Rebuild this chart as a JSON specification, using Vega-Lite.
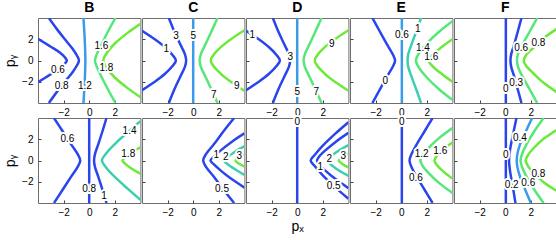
{
"$schema":"https://vega.github.io/schema/vega-lite/v6.json",
"padding":{"left":3,"top":0,"right":0,"bottom":0},
"autosize":{"type":"pad"},
"datasets":{
"lines":[
{"p":"B1","c":"0.6","k":1,"x":-4,"y":-2.05},{"p":"B1","c":"0.6","k":1,"x":-3,"y":-1.3},{"p":"B1","c":"0.6","k":1,"x":-2.3,"y":-0.75},{"p":"B1","c":"0.6","k":1,"x":-1.9,"y":-0.3},{"p":"B1","c":"0.6","k":1,"x":-1.75,"y":0},{"p":"B1","c":"0.6","k":1,"x":-1.9,"y":0.3},{"p":"B1","c":"0.6","k":1,"x":-2.3,"y":0.75},{"p":"B1","c":"0.6","k":1,"x":-3,"y":1.3},{"p":"B1","c":"0.6","k":1,"x":-4,"y":2.05},
{"p":"B1","c":"0.8","k":1,"x":-3.15,"y":-4},{"p":"B1","c":"0.8","k":1,"x":-2.55,"y":-3},{"p":"B1","c":"0.8","k":1,"x":-1.9,"y":-2},{"p":"B1","c":"0.8","k":1,"x":-1.3,"y":-1.1},{"p":"B1","c":"0.8","k":1,"x":-0.95,"y":-0.45},{"p":"B1","c":"0.8","k":1,"x":-0.8,"y":0},{"p":"B1","c":"0.8","k":1,"x":-0.95,"y":0.45},{"p":"B1","c":"0.8","k":1,"x":-1.3,"y":1.1},{"p":"B1","c":"0.8","k":1,"x":-1.9,"y":2},{"p":"B1","c":"0.8","k":1,"x":-2.55,"y":3},{"p":"B1","c":"0.8","k":1,"x":-3.15,"y":4},
{"p":"B1","c":"1.2","k":2,"x":-0.45,"y":-4},{"p":"B1","c":"1.2","k":2,"x":-0.35,"y":-2},{"p":"B1","c":"1.2","k":2,"x":-0.3,"y":0},{"p":"B1","c":"1.2","k":2,"x":-0.35,"y":2},{"p":"B1","c":"1.2","k":2,"x":-0.45,"y":4},
{"p":"B1","c":"1.6","k":4,"x":2.05,"y":-4},{"p":"B1","c":"1.6","k":4,"x":1.5,"y":-2.8},{"p":"B1","c":"1.6","k":4,"x":0.95,"y":-1.5},{"p":"B1","c":"1.6","k":4,"x":0.6,"y":-0.6},{"p":"B1","c":"1.6","k":4,"x":0.45,"y":0},{"p":"B1","c":"1.6","k":4,"x":0.6,"y":0.6},{"p":"B1","c":"1.6","k":4,"x":0.95,"y":1.5},{"p":"B1","c":"1.6","k":4,"x":1.5,"y":2.8},{"p":"B1","c":"1.6","k":4,"x":2.05,"y":4},
{"p":"B1","c":"1.8","k":5,"x":4,"y":-3.45},{"p":"B1","c":"1.8","k":5,"x":3,"y":-2.6},{"p":"B1","c":"1.8","k":5,"x":2,"y":-1.6},{"p":"B1","c":"1.8","k":5,"x":1.4,"y":-0.75},{"p":"B1","c":"1.8","k":5,"x":1.1,"y":0},{"p":"B1","c":"1.8","k":5,"x":1.4,"y":0.75},{"p":"B1","c":"1.8","k":5,"x":2,"y":1.6},{"p":"B1","c":"1.8","k":5,"x":3,"y":2.6},{"p":"B1","c":"1.8","k":5,"x":4,"y":3.45},

{"p":"C1","c":"1","k":1,"x":-4,"y":-2.8},{"p":"C1","c":"1","k":1,"x":-3,"y":-2.0},{"p":"C1","c":"1","k":1,"x":-2.2,"y":-1.25},{"p":"C1","c":"1","k":1,"x":-1.6,"y":-0.5},{"p":"C1","c":"1","k":1,"x":-1.35,"y":0},{"p":"C1","c":"1","k":1,"x":-1.6,"y":0.5},{"p":"C1","c":"1","k":1,"x":-2.2,"y":1.25},{"p":"C1","c":"1","k":1,"x":-3,"y":2.0},{"p":"C1","c":"1","k":1,"x":-4,"y":2.8},
{"p":"C1","c":"3","k":1,"x":-1.9,"y":-4},{"p":"C1","c":"3","k":1,"x":-1.5,"y":-2.8},{"p":"C1","c":"3","k":1,"x":-1.0,"y":-1.5},{"p":"C1","c":"3","k":1,"x":-0.65,"y":-0.6},{"p":"C1","c":"3","k":1,"x":-0.55,"y":0},{"p":"C1","c":"3","k":1,"x":-0.65,"y":0.6},{"p":"C1","c":"3","k":1,"x":-1.0,"y":1.5},{"p":"C1","c":"3","k":1,"x":-1.5,"y":2.8},{"p":"C1","c":"3","k":1,"x":-1.9,"y":4},
{"p":"C1","c":"5","k":2,"x":0,"y":-4},{"p":"C1","c":"5","k":2,"x":0,"y":4},
{"p":"C1","c":"7","k":4,"x":1.9,"y":-4},{"p":"C1","c":"7","k":4,"x":1.45,"y":-2.8},{"p":"C1","c":"7","k":4,"x":0.95,"y":-1.5},{"p":"C1","c":"7","k":4,"x":0.6,"y":-0.6},{"p":"C1","c":"7","k":4,"x":0.5,"y":0},{"p":"C1","c":"7","k":4,"x":0.6,"y":0.6},{"p":"C1","c":"7","k":4,"x":0.95,"y":1.5},{"p":"C1","c":"7","k":4,"x":1.45,"y":2.8},{"p":"C1","c":"7","k":4,"x":1.9,"y":4},
{"p":"C1","c":"9","k":5,"x":4,"y":-2.85},{"p":"C1","c":"9","k":5,"x":3,"y":-2.05},{"p":"C1","c":"9","k":5,"x":2.2,"y":-1.3},{"p":"C1","c":"9","k":5,"x":1.6,"y":-0.55},{"p":"C1","c":"9","k":5,"x":1.37,"y":0},{"p":"C1","c":"9","k":5,"x":1.6,"y":0.55},{"p":"C1","c":"9","k":5,"x":2.2,"y":1.3},{"p":"C1","c":"9","k":5,"x":3,"y":2.05},{"p":"C1","c":"9","k":5,"x":4,"y":2.85},

{"p":"D1","c":"1","k":1,"x":-4,"y":-2.8},{"p":"D1","c":"1","k":1,"x":-3,"y":-2.0},{"p":"D1","c":"1","k":1,"x":-2.2,"y":-1.25},{"p":"D1","c":"1","k":1,"x":-1.6,"y":-0.5},{"p":"D1","c":"1","k":1,"x":-1.35,"y":0},{"p":"D1","c":"1","k":1,"x":-1.6,"y":0.5},{"p":"D1","c":"1","k":1,"x":-2.2,"y":1.25},{"p":"D1","c":"1","k":1,"x":-3,"y":2.0},{"p":"D1","c":"1","k":1,"x":-4,"y":2.8},
{"p":"D1","c":"3","k":1,"x":-1.9,"y":-4},{"p":"D1","c":"3","k":1,"x":-1.5,"y":-2.8},{"p":"D1","c":"3","k":1,"x":-1.0,"y":-1.5},{"p":"D1","c":"3","k":1,"x":-0.65,"y":-0.6},{"p":"D1","c":"3","k":1,"x":-0.55,"y":0},{"p":"D1","c":"3","k":1,"x":-0.65,"y":0.6},{"p":"D1","c":"3","k":1,"x":-1.0,"y":1.5},{"p":"D1","c":"3","k":1,"x":-1.5,"y":2.8},{"p":"D1","c":"3","k":1,"x":-1.9,"y":4},
{"p":"D1","c":"5","k":2,"x":0,"y":-4},{"p":"D1","c":"5","k":2,"x":0,"y":4},
{"p":"D1","c":"7","k":4,"x":1.9,"y":-4},{"p":"D1","c":"7","k":4,"x":1.45,"y":-2.8},{"p":"D1","c":"7","k":4,"x":0.95,"y":-1.5},{"p":"D1","c":"7","k":4,"x":0.6,"y":-0.6},{"p":"D1","c":"7","k":4,"x":0.5,"y":0},{"p":"D1","c":"7","k":4,"x":0.6,"y":0.6},{"p":"D1","c":"7","k":4,"x":0.95,"y":1.5},{"p":"D1","c":"7","k":4,"x":1.45,"y":2.8},{"p":"D1","c":"7","k":4,"x":1.9,"y":4},
{"p":"D1","c":"9","k":5,"x":4,"y":-2.85},{"p":"D1","c":"9","k":5,"x":3,"y":-2.05},{"p":"D1","c":"9","k":5,"x":2.2,"y":-1.3},{"p":"D1","c":"9","k":5,"x":1.6,"y":-0.55},{"p":"D1","c":"9","k":5,"x":1.37,"y":0},{"p":"D1","c":"9","k":5,"x":1.6,"y":0.55},{"p":"D1","c":"9","k":5,"x":2.2,"y":1.3},{"p":"D1","c":"9","k":5,"x":3,"y":2.05},{"p":"D1","c":"9","k":5,"x":4,"y":2.85},

{"p":"E1","c":"0","k":1,"x":-2.25,"y":-4},{"p":"E1","c":"0","k":1,"x":-1.7,"y":-2.8},{"p":"E1","c":"0","k":1,"x":-1.1,"y":-1.5},{"p":"E1","c":"0","k":1,"x":-0.62,"y":-0.5},{"p":"E1","c":"0","k":1,"x":-0.48,"y":0},{"p":"E1","c":"0","k":1,"x":-0.62,"y":0.5},{"p":"E1","c":"0","k":1,"x":-1.1,"y":1.5},{"p":"E1","c":"0","k":1,"x":-1.7,"y":2.8},{"p":"E1","c":"0","k":1,"x":-2.25,"y":4},
{"p":"E1","c":"0.6","k":2,"x":0.05,"y":-4},{"p":"E1","c":"0.6","k":2,"x":0.05,"y":4},
{"p":"E1","c":"1","k":3,"x":1.55,"y":-4},{"p":"E1","c":"1","k":3,"x":1.2,"y":-2.8},{"p":"E1","c":"1","k":3,"x":0.8,"y":-1.5},{"p":"E1","c":"1","k":3,"x":0.55,"y":-0.6},{"p":"E1","c":"1","k":3,"x":0.5,"y":0},{"p":"E1","c":"1","k":3,"x":0.55,"y":0.6},{"p":"E1","c":"1","k":3,"x":0.8,"y":1.5},{"p":"E1","c":"1","k":3,"x":1.2,"y":2.8},{"p":"E1","c":"1","k":3,"x":1.55,"y":4},
{"p":"E1","c":"1.4","k":4,"x":4,"y":-3.7},{"p":"E1","c":"1.4","k":4,"x":3,"y":-2.75},{"p":"E1","c":"1.4","k":4,"x":2,"y":-1.6},{"p":"E1","c":"1.4","k":4,"x":1.4,"y":-0.7},{"p":"E1","c":"1.4","k":4,"x":1.15,"y":0},{"p":"E1","c":"1.4","k":4,"x":1.4,"y":0.7},{"p":"E1","c":"1.4","k":4,"x":2,"y":1.6},{"p":"E1","c":"1.4","k":4,"x":3,"y":2.75},{"p":"E1","c":"1.4","k":4,"x":4,"y":3.7},
{"p":"E1","c":"1.6","k":5,"x":4,"y":-2.0},{"p":"E1","c":"1.6","k":5,"x":3.2,"y":-1.3},{"p":"E1","c":"1.6","k":5,"x":2.5,"y":-0.6},{"p":"E1","c":"1.6","k":5,"x":2.15,"y":0},{"p":"E1","c":"1.6","k":5,"x":2.5,"y":0.6},{"p":"E1","c":"1.6","k":5,"x":3.2,"y":1.3},{"p":"E1","c":"1.6","k":5,"x":4,"y":2.0},

{"p":"F1","c":"0","k":1,"x":0.05,"y":-4},{"p":"F1","c":"0","k":1,"x":0.05,"y":4},
{"p":"F1","c":"0.3","k":1,"x":1.27,"y":-4},{"p":"F1","c":"0.3","k":1,"x":1.0,"y":-2.8},{"p":"F1","c":"0.3","k":1,"x":0.7,"y":-1.5},{"p":"F1","c":"0.3","k":1,"x":0.47,"y":-0.6},{"p":"F1","c":"0.3","k":1,"x":0.41,"y":0},{"p":"F1","c":"0.3","k":1,"x":0.47,"y":0.6},{"p":"F1","c":"0.3","k":1,"x":0.7,"y":1.5},{"p":"F1","c":"0.3","k":1,"x":1.0,"y":2.8},{"p":"F1","c":"0.3","k":1,"x":1.27,"y":4},
{"p":"F1","c":"0.6","k":4,"x":2.5,"y":-4},{"p":"F1","c":"0.6","k":4,"x":1.95,"y":-2.8},{"p":"F1","c":"0.6","k":4,"x":1.35,"y":-1.5},{"p":"F1","c":"0.6","k":4,"x":1.0,"y":-0.6},{"p":"F1","c":"0.6","k":4,"x":0.92,"y":0},{"p":"F1","c":"0.6","k":4,"x":1.0,"y":0.6},{"p":"F1","c":"0.6","k":4,"x":1.35,"y":1.5},{"p":"F1","c":"0.6","k":4,"x":1.95,"y":2.8},{"p":"F1","c":"0.6","k":4,"x":2.5,"y":4},
{"p":"F1","c":"0.8","k":5,"x":4,"y":-2.95},{"p":"F1","c":"0.8","k":5,"x":3,"y":-2.1},{"p":"F1","c":"0.8","k":5,"x":2.2,"y":-1.2},{"p":"F1","c":"0.8","k":5,"x":1.6,"y":-0.45},{"p":"F1","c":"0.8","k":5,"x":1.45,"y":0},{"p":"F1","c":"0.8","k":5,"x":1.6,"y":0.45},{"p":"F1","c":"0.8","k":5,"x":2.2,"y":1.2},{"p":"F1","c":"0.8","k":5,"x":3,"y":2.1},{"p":"F1","c":"0.8","k":5,"x":4,"y":2.95},

{"p":"B2","c":"0.6","k":1,"x":-2.75,"y":-4},{"p":"B2","c":"0.6","k":1,"x":-2.1,"y":-2.8},{"p":"B2","c":"0.6","k":1,"x":-1.4,"y":-1.5},{"p":"B2","c":"0.6","k":1,"x":-0.9,"y":-0.6},{"p":"B2","c":"0.6","k":1,"x":-0.7,"y":0},{"p":"B2","c":"0.6","k":1,"x":-0.9,"y":0.6},{"p":"B2","c":"0.6","k":1,"x":-1.4,"y":1.5},{"p":"B2","c":"0.6","k":1,"x":-2.1,"y":2.8},{"p":"B2","c":"0.6","k":1,"x":-2.75,"y":4},
{"p":"B2","c":"0.8","k":1,"x":0,"y":-4},{"p":"B2","c":"0.8","k":1,"x":0,"y":4},
{"p":"B2","c":"1","k":1,"x":1.35,"y":-4},{"p":"B2","c":"1","k":1,"x":1.05,"y":-2.8},{"p":"B2","c":"1","k":1,"x":0.7,"y":-1.5},{"p":"B2","c":"1","k":1,"x":0.45,"y":-0.6},{"p":"B2","c":"1","k":1,"x":0.38,"y":0},{"p":"B2","c":"1","k":1,"x":0.45,"y":0.6},{"p":"B2","c":"1","k":1,"x":0.7,"y":1.5},{"p":"B2","c":"1","k":1,"x":1.05,"y":2.8},{"p":"B2","c":"1","k":1,"x":1.35,"y":4},
{"p":"B2","c":"1.4","k":3,"x":4,"y":-3.7},{"p":"B2","c":"1.4","k":3,"x":3,"y":-2.65},{"p":"B2","c":"1.4","k":3,"x":2,"y":-1.55},{"p":"B2","c":"1.4","k":3,"x":1.35,"y":-0.7},{"p":"B2","c":"1.4","k":3,"x":1.0,"y":0},{"p":"B2","c":"1.4","k":3,"x":1.35,"y":0.7},{"p":"B2","c":"1.4","k":3,"x":2,"y":1.55},{"p":"B2","c":"1.4","k":3,"x":3,"y":2.65},{"p":"B2","c":"1.4","k":3,"x":4,"y":3.7},
{"p":"B2","c":"1.8","k":5,"x":4,"y":-1.25},{"p":"B2","c":"1.8","k":5,"x":3.3,"y":-0.75},{"p":"B2","c":"1.8","k":5,"x":2.8,"y":-0.3},{"p":"B2","c":"1.8","k":5,"x":2.6,"y":0},{"p":"B2","c":"1.8","k":5,"x":2.8,"y":0.3},{"p":"B2","c":"1.8","k":5,"x":3.3,"y":0.75},{"p":"B2","c":"1.8","k":5,"x":4,"y":1.25},

{"p":"C2","c":"0.5","k":1,"x":3.2,"y":-4},{"p":"C2","c":"0.5","k":1,"x":2.4,"y":-2.8},{"p":"C2","c":"0.5","k":1,"x":1.6,"y":-1.5},{"p":"C2","c":"0.5","k":1,"x":1.0,"y":-0.6},{"p":"C2","c":"0.5","k":1,"x":0.78,"y":0},{"p":"C2","c":"0.5","k":1,"x":1.0,"y":0.6},{"p":"C2","c":"0.5","k":1,"x":1.6,"y":1.5},{"p":"C2","c":"0.5","k":1,"x":2.4,"y":2.8},{"p":"C2","c":"0.5","k":1,"x":3.2,"y":4},
{"p":"C2","c":"1","k":1,"x":4,"y":-2.55},{"p":"C2","c":"1","k":1,"x":3,"y":-1.75},{"p":"C2","c":"1","k":1,"x":2.2,"y":-1.0},{"p":"C2","c":"1","k":1,"x":1.6,"y":-0.35},{"p":"C2","c":"1","k":1,"x":1.35,"y":0},{"p":"C2","c":"1","k":1,"x":1.6,"y":0.35},{"p":"C2","c":"1","k":1,"x":2.2,"y":1.0},{"p":"C2","c":"1","k":1,"x":3,"y":1.75},{"p":"C2","c":"1","k":1,"x":4,"y":2.55},
{"p":"C2","c":"2","k":3,"x":4,"y":-1.35},{"p":"C2","c":"2","k":3,"x":3.3,"y":-0.85},{"p":"C2","c":"2","k":3,"x":2.7,"y":-0.35},{"p":"C2","c":"2","k":3,"x":2.4,"y":0},{"p":"C2","c":"2","k":3,"x":2.7,"y":0.35},{"p":"C2","c":"2","k":3,"x":3.3,"y":0.85},{"p":"C2","c":"2","k":3,"x":4,"y":1.35},
{"p":"C2","c":"3","k":5,"x":4,"y":-0.55},{"p":"C2","c":"3","k":5,"x":3.55,"y":-0.28},{"p":"C2","c":"3","k":5,"x":3.3,"y":0},{"p":"C2","c":"3","k":5,"x":3.55,"y":0.28},{"p":"C2","c":"3","k":5,"x":4,"y":0.55},

{"p":"D2","c":"0","k":1,"x":0,"y":-4},{"p":"D2","c":"0","k":1,"x":0,"y":4},
{"p":"D2","c":"0.5","k":1,"x":4,"y":-3.6},{"p":"D2","c":"0.5","k":1,"x":3,"y":-2.55},{"p":"D2","c":"0.5","k":1,"x":2,"y":-1.4},{"p":"D2","c":"0.5","k":1,"x":1.35,"y":-0.5},{"p":"D2","c":"0.5","k":1,"x":1.05,"y":0},{"p":"D2","c":"0.5","k":1,"x":1.35,"y":0.5},{"p":"D2","c":"0.5","k":1,"x":2,"y":1.4},{"p":"D2","c":"0.5","k":1,"x":3,"y":2.55},{"p":"D2","c":"0.5","k":1,"x":4,"y":3.6},
{"p":"D2","c":"1","k":1,"x":4,"y":-2.6},{"p":"D2","c":"1","k":1,"x":3,"y":-1.75},{"p":"D2","c":"1","k":1,"x":2.2,"y":-0.95},{"p":"D2","c":"1","k":1,"x":1.7,"y":-0.35},{"p":"D2","c":"1","k":1,"x":1.55,"y":0},{"p":"D2","c":"1","k":1,"x":1.7,"y":0.35},{"p":"D2","c":"1","k":1,"x":2.2,"y":0.95},{"p":"D2","c":"1","k":1,"x":3,"y":1.75},{"p":"D2","c":"1","k":1,"x":4,"y":2.6},
{"p":"D2","c":"2","k":3,"x":4,"y":-1.45},{"p":"D2","c":"2","k":3,"x":3.2,"y":-0.9},{"p":"D2","c":"2","k":3,"x":2.6,"y":-0.35},{"p":"D2","c":"2","k":3,"x":2.4,"y":0},{"p":"D2","c":"2","k":3,"x":2.6,"y":0.35},{"p":"D2","c":"2","k":3,"x":3.2,"y":0.9},{"p":"D2","c":"2","k":3,"x":4,"y":1.45},
{"p":"D2","c":"3","k":5,"x":4,"y":-0.65},{"p":"D2","c":"3","k":5,"x":3.5,"y":-0.3},{"p":"D2","c":"3","k":5,"x":3.25,"y":0},{"p":"D2","c":"3","k":5,"x":3.5,"y":0.3},{"p":"D2","c":"3","k":5,"x":4,"y":0.65},

{"p":"E2","c":"0","k":1,"x":0.05,"y":-4},{"p":"E2","c":"0","k":1,"x":0.05,"y":4},
{"p":"E2","c":"0.6","k":1,"x":2.45,"y":-4},{"p":"E2","c":"0.6","k":1,"x":1.85,"y":-2.8},{"p":"E2","c":"0.6","k":1,"x":1.2,"y":-1.5},{"p":"E2","c":"0.6","k":1,"x":0.8,"y":-0.6},{"p":"E2","c":"0.6","k":1,"x":0.65,"y":0},{"p":"E2","c":"0.6","k":1,"x":0.8,"y":0.6},{"p":"E2","c":"0.6","k":1,"x":1.2,"y":1.5},{"p":"E2","c":"0.6","k":1,"x":1.85,"y":2.8},{"p":"E2","c":"0.6","k":1,"x":2.45,"y":4},
{"p":"E2","c":"1.2","k":4,"x":4,"y":-3.05},{"p":"E2","c":"1.2","k":4,"x":3,"y":-2.15},{"p":"E2","c":"1.2","k":4,"x":2.2,"y":-1.25},{"p":"E2","c":"1.2","k":4,"x":1.65,"y":-0.45},{"p":"E2","c":"1.2","k":4,"x":1.5,"y":0},{"p":"E2","c":"1.2","k":4,"x":1.65,"y":0.45},{"p":"E2","c":"1.2","k":4,"x":2.2,"y":1.25},{"p":"E2","c":"1.2","k":4,"x":3,"y":2.15},{"p":"E2","c":"1.2","k":4,"x":4,"y":3.05},
{"p":"E2","c":"1.6","k":5,"x":4,"y":-1.7},{"p":"E2","c":"1.6","k":5,"x":3.3,"y":-1.05},{"p":"E2","c":"1.6","k":5,"x":2.8,"y":-0.45},{"p":"E2","c":"1.6","k":5,"x":2.6,"y":0},{"p":"E2","c":"1.6","k":5,"x":2.8,"y":0.45},{"p":"E2","c":"1.6","k":5,"x":3.3,"y":1.05},{"p":"E2","c":"1.6","k":5,"x":4,"y":1.7},

{"p":"F2","c":"0","k":1,"x":0.05,"y":-4},{"p":"F2","c":"0","k":1,"x":0.05,"y":4},
{"p":"F2","c":"0.2","k":1,"x":0.8,"y":-4},{"p":"F2","c":"0.2","k":1,"x":0.6,"y":-2.5},{"p":"F2","c":"0.2","k":1,"x":0.38,"y":-1.0},{"p":"F2","c":"0.2","k":1,"x":0.3,"y":0},{"p":"F2","c":"0.2","k":1,"x":0.38,"y":1.0},{"p":"F2","c":"0.2","k":1,"x":0.62,"y":2.5},{"p":"F2","c":"0.2","k":1,"x":0.88,"y":4},
{"p":"F2","c":"0.4","k":2,"x":2.0,"y":-4},{"p":"F2","c":"0.4","k":2,"x":1.55,"y":-2.7},{"p":"F2","c":"0.4","k":2,"x":1.15,"y":-1.5},{"p":"F2","c":"0.4","k":2,"x":0.95,"y":-0.6},{"p":"F2","c":"0.4","k":2,"x":0.9,"y":0},{"p":"F2","c":"0.4","k":2,"x":0.95,"y":0.6},{"p":"F2","c":"0.4","k":2,"x":1.15,"y":1.5},{"p":"F2","c":"0.4","k":2,"x":1.6,"y":2.7},{"p":"F2","c":"0.4","k":2,"x":2.1,"y":4},
{"p":"F2","c":"0.6","k":4,"x":3.0,"y":-4},{"p":"F2","c":"0.6","k":4,"x":2.3,"y":-2.8},{"p":"F2","c":"0.6","k":4,"x":1.65,"y":-1.5},{"p":"F2","c":"0.6","k":4,"x":1.3,"y":-0.55},{"p":"F2","c":"0.6","k":4,"x":1.2,"y":0},{"p":"F2","c":"0.6","k":4,"x":1.3,"y":0.55},{"p":"F2","c":"0.6","k":4,"x":1.65,"y":1.5},{"p":"F2","c":"0.6","k":4,"x":2.3,"y":2.8},{"p":"F2","c":"0.6","k":4,"x":3.0,"y":4},
{"p":"F2","c":"0.8","k":5,"x":4,"y":-2.85},{"p":"F2","c":"0.8","k":5,"x":3,"y":-2.05},{"p":"F2","c":"0.8","k":5,"x":2.25,"y":-1.2},{"p":"F2","c":"0.8","k":5,"x":1.75,"y":-0.45},{"p":"F2","c":"0.8","k":5,"x":1.6,"y":0},{"p":"F2","c":"0.8","k":5,"x":1.75,"y":0.45},{"p":"F2","c":"0.8","k":5,"x":2.25,"y":1.2},{"p":"F2","c":"0.8","k":5,"x":3,"y":2.05},{"p":"F2","c":"0.8","k":5,"x":4,"y":2.85}
],
"labs":[
{"p":"B1","t":"0.6","x":-2.45,"y":-0.85},{"p":"B1","t":"0.8","x":-2.15,"y":-2.4},{"p":"B1","t":"1.2","x":-0.33,"y":-2.4},{"p":"B1","t":"1.6","x":0.95,"y":1.4},{"p":"B1","t":"1.8","x":1.35,"y":-0.75},
{"p":"C1","t":"1","x":-2.1,"y":1.1},{"p":"C1","t":"3","x":-1.35,"y":2.3},{"p":"C1","t":"5","x":0,"y":2.3},{"p":"C1","t":"7","x":1.6,"y":-3.2},{"p":"C1","t":"9","x":3.4,"y":-2.4},
{"p":"D1","t":"1","x":-3.5,"y":2.4},{"p":"D1","t":"3","x":-0.55,"y":0.3},{"p":"D1","t":"5","x":0,"y":-3.0},{"p":"D1","t":"7","x":1.5,"y":-3.0},{"p":"D1","t":"9","x":2.7,"y":1.6},
{"p":"E1","t":"0","x":-1.25,"y":-1.9},{"p":"E1","t":"0.6","x":0.05,"y":2.4},{"p":"E1","t":"1","x":1.3,"y":3.0},{"p":"E1","t":"1.4","x":1.7,"y":1.2},{"p":"E1","t":"1.6","x":2.35,"y":0.3},
{"p":"F1","t":"0","x":0.05,"y":-2.7},{"p":"F1","t":"0.3","x":0.85,"y":-2.1},{"p":"F1","t":"0.6","x":1.25,"y":1.2},{"p":"F1","t":"0.8","x":2.6,"y":1.65},
{"p":"B2","t":"0.6","x":-1.7,"y":2.0},{"p":"B2","t":"0.8","x":0,"y":-2.7},{"p":"B2","t":"1","x":1.15,"y":-3.3},{"p":"B2","t":"1.4","x":3.15,"y":2.8},{"p":"B2","t":"1.8","x":3.05,"y":0.65},
{"p":"C2","t":"0.5","x":2.25,"y":-2.7},{"p":"C2","t":"1","x":1.8,"y":0.55},{"p":"C2","t":"2","x":2.55,"y":0.35},{"p":"C2","t":"3","x":3.6,"y":0.4},
{"p":"D2","t":"0","x":0,"y":3.6},{"p":"D2","t":"0.5","x":2.85,"y":-2.4},{"p":"D2","t":"1","x":1.8,"y":-0.6},{"p":"D2","t":"2","x":2.5,"y":0.15},{"p":"D2","t":"3","x":3.6,"y":0.45},
{"p":"E2","t":"0","x":0.05,"y":3.6},{"p":"E2","t":"0.6","x":1.15,"y":-1.6},{"p":"E2","t":"1.2","x":1.6,"y":0.6},{"p":"E2","t":"1.6","x":3.05,"y":0.9},
{"p":"F2","t":"0","x":0.05,"y":0.55},{"p":"F2","t":"0.2","x":0.5,"y":-2.3},{"p":"F2","t":"0.4","x":1.15,"y":2.1},{"p":"F2","t":"0.6","x":1.8,"y":-2.1},{"p":"F2","t":"0.8","x":2.6,"y":-1.3}
]
},
"columns":5,
"spacing":{"row":-3,"column":0},
"concat":[
{"width":102.4,"height":85,"title":"B",
 "encoding":{"x":{"field":"x","type":"quantitative","scale":{"domain":[-4,4],"nice":false,"zero":false},"axis":{"values":[-2,0,2],"title":null}},
  "y":{"field":"y","type":"quantitative","scale":{"domain":[-4,4],"nice":false,"zero":false},"axis":{"values":[-2,0,2],"title":"pᵧ"}}},
 "layer":[
  {"data":{"name":"lines"},"transform":[{"filter":"datum.p=='B1'"}],"mark":{"type":"line","strokeWidth":2.5,"clip":true,"interpolate":"catmull-rom"},"encoding":{"color":{"field":"k","type":"ordinal","scale":{"domain":[1,2,3,4,5],"range":["#2a45ec","#3a9ce8","#3ccfae","#55e878","#6cea3a"]},"legend":null},"detail":{"field":"c"},"order":{"field":"y","type":"quantitative"}}},
  {"data":{"name":"labs"},"transform":[{"filter":"datum.p=='B1'"}],"mark":{"type":"text","font":"Liberation Sans","fontSize":10,"fill":"white","stroke":"white","strokeWidth":4,"strokeJoin":"round"},"encoding":{"text":{"field":"t"}}},
  {"data":{"name":"labs"},"transform":[{"filter":"datum.p=='B1'"}],"mark":{"type":"text","font":"Liberation Sans","fontSize":10,"fill":"black"},"encoding":{"text":{"field":"t"}}}
 ]},
{"width":102.4,"height":85,"title":"C",
 "encoding":{"x":{"field":"x","type":"quantitative","scale":{"domain":[-4,4],"nice":false,"zero":false},"axis":{"values":[-2,0,2],"title":null}},
  "y":{"field":"y","type":"quantitative","scale":{"domain":[-4,4],"nice":false,"zero":false},"axis":{"values":[-2,0,2],"labels":false,"title":null,"minExtent":0}}},
 "layer":[
  {"data":{"name":"lines"},"transform":[{"filter":"datum.p=='C1'"}],"mark":{"type":"line","strokeWidth":2.5,"clip":true,"interpolate":"catmull-rom"},"encoding":{"color":{"field":"k","type":"ordinal","scale":{"domain":[1,2,3,4,5],"range":["#2a45ec","#3a9ce8","#3ccfae","#55e878","#6cea3a"]},"legend":null},"detail":{"field":"c"},"order":{"field":"y","type":"quantitative"}}},
  {"data":{"name":"labs"},"transform":[{"filter":"datum.p=='C1'"}],"mark":{"type":"text","font":"Liberation Sans","fontSize":10,"fill":"white","stroke":"white","strokeWidth":4,"strokeJoin":"round"},"encoding":{"text":{"field":"t"}}},
  {"data":{"name":"labs"},"transform":[{"filter":"datum.p=='C1'"}],"mark":{"type":"text","font":"Liberation Sans","fontSize":10,"fill":"black"},"encoding":{"text":{"field":"t"}}}
 ]},
{"width":102.4,"height":85,"title":"D",
 "encoding":{"x":{"field":"x","type":"quantitative","scale":{"domain":[-4,4],"nice":false,"zero":false},"axis":{"values":[-2,0,2],"title":null}},
  "y":{"field":"y","type":"quantitative","scale":{"domain":[-4,4],"nice":false,"zero":false},"axis":{"values":[-2,0,2],"labels":false,"title":null,"minExtent":0}}},
 "layer":[
  {"data":{"name":"lines"},"transform":[{"filter":"datum.p=='D1'"}],"mark":{"type":"line","strokeWidth":2.5,"clip":true,"interpolate":"catmull-rom"},"encoding":{"color":{"field":"k","type":"ordinal","scale":{"domain":[1,2,3,4,5],"range":["#2a45ec","#3a9ce8","#3ccfae","#55e878","#6cea3a"]},"legend":null},"detail":{"field":"c"},"order":{"field":"y","type":"quantitative"}}},
  {"data":{"name":"labs"},"transform":[{"filter":"datum.p=='D1'"}],"mark":{"type":"text","font":"Liberation Sans","fontSize":10,"fill":"white","stroke":"white","strokeWidth":4,"strokeJoin":"round"},"encoding":{"text":{"field":"t"}}},
  {"data":{"name":"labs"},"transform":[{"filter":"datum.p=='D1'"}],"mark":{"type":"text","font":"Liberation Sans","fontSize":10,"fill":"black"},"encoding":{"text":{"field":"t"}}}
 ]},
{"width":102.4,"height":85,"title":"E",
 "encoding":{"x":{"field":"x","type":"quantitative","scale":{"domain":[-4,4],"nice":false,"zero":false},"axis":{"values":[-2,0,2],"title":null}},
  "y":{"field":"y","type":"quantitative","scale":{"domain":[-4,4],"nice":false,"zero":false},"axis":{"values":[-2,0,2],"labels":false,"title":null,"minExtent":0}}},
 "layer":[
  {"data":{"name":"lines"},"transform":[{"filter":"datum.p=='E1'"}],"mark":{"type":"line","strokeWidth":2.5,"clip":true,"interpolate":"catmull-rom"},"encoding":{"color":{"field":"k","type":"ordinal","scale":{"domain":[1,2,3,4,5],"range":["#2a45ec","#3a9ce8","#3ccfae","#55e878","#6cea3a"]},"legend":null},"detail":{"field":"c"},"order":{"field":"y","type":"quantitative"}}},
  {"data":{"name":"labs"},"transform":[{"filter":"datum.p=='E1'"}],"mark":{"type":"text","font":"Liberation Sans","fontSize":10,"fill":"white","stroke":"white","strokeWidth":4,"strokeJoin":"round"},"encoding":{"text":{"field":"t"}}},
  {"data":{"name":"labs"},"transform":[{"filter":"datum.p=='E1'"}],"mark":{"type":"text","font":"Liberation Sans","fontSize":10,"fill":"black"},"encoding":{"text":{"field":"t"}}}
 ]},
{"width":102.4,"height":85,"title":"F",
 "encoding":{"x":{"field":"x","type":"quantitative","scale":{"domain":[-4,4],"nice":false,"zero":false},"axis":{"values":[-2,0,2],"title":null}},
  "y":{"field":"y","type":"quantitative","scale":{"domain":[-4,4],"nice":false,"zero":false},"axis":{"values":[-2,0,2],"labels":false,"title":null,"minExtent":0}}},
 "layer":[
  {"data":{"name":"lines"},"transform":[{"filter":"datum.p=='F1'"}],"mark":{"type":"line","strokeWidth":2.5,"clip":true,"interpolate":"catmull-rom"},"encoding":{"color":{"field":"k","type":"ordinal","scale":{"domain":[1,2,3,4,5],"range":["#2a45ec","#3a9ce8","#3ccfae","#55e878","#6cea3a"]},"legend":null},"detail":{"field":"c"},"order":{"field":"y","type":"quantitative"}}},
  {"data":{"name":"labs"},"transform":[{"filter":"datum.p=='F1'"}],"mark":{"type":"text","font":"Liberation Sans","fontSize":10,"fill":"white","stroke":"white","strokeWidth":4,"strokeJoin":"round"},"encoding":{"text":{"field":"t"}}},
  {"data":{"name":"labs"},"transform":[{"filter":"datum.p=='F1'"}],"mark":{"type":"text","font":"Liberation Sans","fontSize":10,"fill":"black"},"encoding":{"text":{"field":"t"}}}
 ]},
{"width":102.4,"height":85,
 "encoding":{"x":{"field":"x","type":"quantitative","scale":{"domain":[-4,4],"nice":false,"zero":false},"axis":{"values":[-2,0,2],"title":null}},
  "y":{"field":"y","type":"quantitative","scale":{"domain":[-4,4],"nice":false,"zero":false},"axis":{"values":[-2,0,2],"title":"pᵧ"}}},
 "layer":[
  {"data":{"name":"lines"},"transform":[{"filter":"datum.p=='B2'"}],"mark":{"type":"line","strokeWidth":2.5,"clip":true,"interpolate":"catmull-rom"},"encoding":{"color":{"field":"k","type":"ordinal","scale":{"domain":[1,2,3,4,5],"range":["#2a45ec","#3a9ce8","#3ccfae","#55e878","#6cea3a"]},"legend":null},"detail":{"field":"c"},"order":{"field":"y","type":"quantitative"}}},
  {"data":{"name":"labs"},"transform":[{"filter":"datum.p=='B2'"}],"mark":{"type":"text","font":"Liberation Sans","fontSize":10,"fill":"white","stroke":"white","strokeWidth":4,"strokeJoin":"round"},"encoding":{"text":{"field":"t"}}},
  {"data":{"name":"labs"},"transform":[{"filter":"datum.p=='B2'"}],"mark":{"type":"text","font":"Liberation Sans","fontSize":10,"fill":"black"},"encoding":{"text":{"field":"t"}}}
 ]},
{"width":102.4,"height":85,
 "encoding":{"x":{"field":"x","type":"quantitative","scale":{"domain":[-4,4],"nice":false,"zero":false},"axis":{"values":[-2,0,2],"title":null}},
  "y":{"field":"y","type":"quantitative","scale":{"domain":[-4,4],"nice":false,"zero":false},"axis":{"values":[-2,0,2],"labels":false,"title":null,"minExtent":0}}},
 "layer":[
  {"data":{"name":"lines"},"transform":[{"filter":"datum.p=='C2'"}],"mark":{"type":"line","strokeWidth":2.5,"clip":true,"interpolate":"catmull-rom"},"encoding":{"color":{"field":"k","type":"ordinal","scale":{"domain":[1,2,3,4,5],"range":["#2a45ec","#3a9ce8","#3ccfae","#55e878","#6cea3a"]},"legend":null},"detail":{"field":"c"},"order":{"field":"y","type":"quantitative"}}},
  {"data":{"name":"labs"},"transform":[{"filter":"datum.p=='C2'"}],"mark":{"type":"text","font":"Liberation Sans","fontSize":10,"fill":"white","stroke":"white","strokeWidth":4,"strokeJoin":"round"},"encoding":{"text":{"field":"t"}}},
  {"data":{"name":"labs"},"transform":[{"filter":"datum.p=='C2'"}],"mark":{"type":"text","font":"Liberation Sans","fontSize":10,"fill":"black"},"encoding":{"text":{"field":"t"}}}
 ]},
{"width":102.4,"height":85,
 "encoding":{"x":{"field":"x","type":"quantitative","scale":{"domain":[-4,4],"nice":false,"zero":false},"axis":{"values":[-2,0,2],"title":"pₓ"}},
  "y":{"field":"y","type":"quantitative","scale":{"domain":[-4,4],"nice":false,"zero":false},"axis":{"values":[-2,0,2],"labels":false,"title":null,"minExtent":0}}},
 "layer":[
  {"data":{"name":"lines"},"transform":[{"filter":"datum.p=='D2'"}],"mark":{"type":"line","strokeWidth":2.5,"clip":true,"interpolate":"catmull-rom"},"encoding":{"color":{"field":"k","type":"ordinal","scale":{"domain":[1,2,3,4,5],"range":["#2a45ec","#3a9ce8","#3ccfae","#55e878","#6cea3a"]},"legend":null},"detail":{"field":"c"},"order":{"field":"y","type":"quantitative"}}},
  {"data":{"name":"labs"},"transform":[{"filter":"datum.p=='D2'"}],"mark":{"type":"text","font":"Liberation Sans","fontSize":10,"fill":"white","stroke":"white","strokeWidth":4,"strokeJoin":"round"},"encoding":{"text":{"field":"t"}}},
  {"data":{"name":"labs"},"transform":[{"filter":"datum.p=='D2'"}],"mark":{"type":"text","font":"Liberation Sans","fontSize":10,"fill":"black"},"encoding":{"text":{"field":"t"}}}
 ]},
{"width":102.4,"height":85,
 "encoding":{"x":{"field":"x","type":"quantitative","scale":{"domain":[-4,4],"nice":false,"zero":false},"axis":{"values":[-2,0,2],"title":null}},
  "y":{"field":"y","type":"quantitative","scale":{"domain":[-4,4],"nice":false,"zero":false},"axis":{"values":[-2,0,2],"labels":false,"title":null,"minExtent":0}}},
 "layer":[
  {"data":{"name":"lines"},"transform":[{"filter":"datum.p=='E2'"}],"mark":{"type":"line","strokeWidth":2.5,"clip":true,"interpolate":"catmull-rom"},"encoding":{"color":{"field":"k","type":"ordinal","scale":{"domain":[1,2,3,4,5],"range":["#2a45ec","#3a9ce8","#3ccfae","#55e878","#6cea3a"]},"legend":null},"detail":{"field":"c"},"order":{"field":"y","type":"quantitative"}}},
  {"data":{"name":"labs"},"transform":[{"filter":"datum.p=='E2'"}],"mark":{"type":"text","font":"Liberation Sans","fontSize":10,"fill":"white","stroke":"white","strokeWidth":4,"strokeJoin":"round"},"encoding":{"text":{"field":"t"}}},
  {"data":{"name":"labs"},"transform":[{"filter":"datum.p=='E2'"}],"mark":{"type":"text","font":"Liberation Sans","fontSize":10,"fill":"black"},"encoding":{"text":{"field":"t"}}}
 ]},
{"width":102.4,"height":85,
 "encoding":{"x":{"field":"x","type":"quantitative","scale":{"domain":[-4,4],"nice":false,"zero":false},"axis":{"values":[-2,0,2],"title":null}},
  "y":{"field":"y","type":"quantitative","scale":{"domain":[-4,4],"nice":false,"zero":false},"axis":{"values":[-2,0,2],"labels":false,"title":null,"minExtent":0}}},
 "layer":[
  {"data":{"name":"lines"},"transform":[{"filter":"datum.p=='F2'"}],"mark":{"type":"line","strokeWidth":2.5,"clip":true,"interpolate":"catmull-rom"},"encoding":{"color":{"field":"k","type":"ordinal","scale":{"domain":[1,2,3,4,5],"range":["#2a45ec","#3a9ce8","#3ccfae","#55e878","#6cea3a"]},"legend":null},"detail":{"field":"c"},"order":{"field":"y","type":"quantitative"}}},
  {"data":{"name":"labs"},"transform":[{"filter":"datum.p=='F2'"}],"mark":{"type":"text","font":"Liberation Sans","fontSize":10,"fill":"white","stroke":"white","strokeWidth":4,"strokeJoin":"round"},"encoding":{"text":{"field":"t"}}},
  {"data":{"name":"labs"},"transform":[{"filter":"datum.p=='F2'"}],"mark":{"type":"text","font":"Liberation Sans","fontSize":10,"fill":"black"},"encoding":{"text":{"field":"t"}}}
 ]}
],
"config":{
 "view":{"stroke":"#6e6e6e","strokeWidth":1},
 "axis":{"domain":false,"grid":false,"ticks":true,"tickSize":-3,"tickColor":"#444","labelFont":"Liberation Sans","labelFontSize":10,"labelColor":"#000","titleFont":"Liberation Sans","titleFontSize":14,"titleFontWeight":"normal","titleColor":"#000"},
 "axisX":{"labelPadding":7,"titlePadding":2},
 "axisY":{"labelPadding":8,"titlePadding":4},
 "title":{"font":"Liberation Sans","fontSize":14,"fontWeight":"bold","color":"#000","offset":3}
}
}
